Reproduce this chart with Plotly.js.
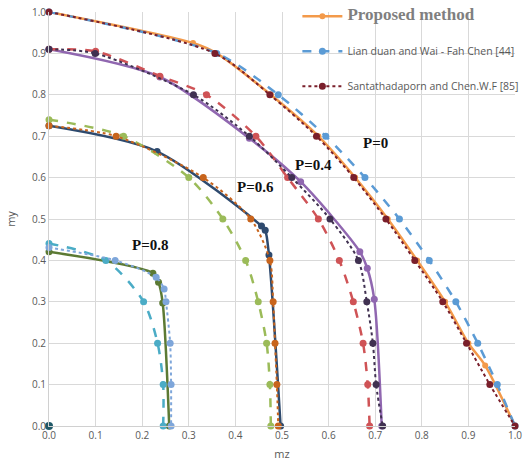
<!DOCTYPE html>
<html>
<head>
<meta charset="utf-8">
<script src="https://cdn.plot.ly/plotly-3.0.1.min.js"></script>
<style>html,body{margin:0;padding:0;background:#fff;}#chart{width:529px;height:468px;}</style>
</head>
<body>
<div id="chart"></div>
<script>
// P = 0
const p0_prop_mz = [0, 0.309, 0.36, 0.476, 0.578, 0.657, 0.727, 0.79, 0.85, 0.9, 0.936, 1.0];
const p0_prop_my = [1.0, 0.925, 0.9, 0.8, 0.7, 0.6, 0.5, 0.4, 0.3, 0.2, 0.146, 0];
const p0_lian_mz = [0, 0.36, 0.492, 0.594, 0.678, 0.752, 0.816, 0.873, 0.920, 0.962, 1.0];
const p0_lian_my = [1.0, 0.9, 0.8, 0.7, 0.6, 0.5, 0.4, 0.3, 0.2, 0.1, 0];
const p0_santa_mz = [0, 0.356, 0.474, 0.574, 0.654, 0.723, 0.785, 0.845, 0.896, 0.946, 1.0];
const p0_santa_my = [1.0, 0.9, 0.8, 0.7, 0.6, 0.5, 0.4, 0.3, 0.2, 0.1, 0];
// P = 0.4
const p4_prop_mz = [0, 0.238, 0.43, 0.54, 0.667, 0.683, 0.698, 0.714];
const p4_prop_my = [0.91, 0.843, 0.695, 0.59, 0.421, 0.381, 0.306, 0];
const p4_lian_mz = [0, 0.1, 0.238, 0.338, 0.444, 0.512, 0.578, 0.623, 0.653, 0.674, 0.684, 0.688];
const p4_lian_my = [0.91, 0.905, 0.845, 0.8, 0.7, 0.6, 0.5, 0.4, 0.3, 0.2, 0.1, 0];
const p4_santa_mz = [0, 0.099, 0.31, 0.43, 0.521, 0.603, 0.664, 0.682, 0.695, 0.702, 0.716];
const p4_santa_my = [0.91, 0.9, 0.8, 0.7, 0.6, 0.5, 0.4, 0.3, 0.2, 0.1, 0];
// P = 0.6
const p6_prop_mz = [0, 0.232, 0.456, 0.464, 0.472, 0.497];
const p6_prop_my = [0.725, 0.663, 0.483, 0.473, 0.413, 0];
const p6_lian_mz = [0, 0.16, 0.30, 0.373, 0.422, 0.449, 0.467, 0.474, 0.476];
const p6_lian_my = [0.74, 0.70, 0.60, 0.50, 0.40, 0.30, 0.20, 0.10, 0];
const p6_santa_mz = [0, 0.144, 0.331, 0.433, 0.474, 0.481, 0.485, 0.489, 0.492];
const p6_santa_my = [0.725, 0.7, 0.6, 0.5, 0.4, 0.3, 0.2, 0.1, 0];
// P = 0.8
const p8_prop_mz = [0, 0.223, 0.235, 0.244, 0.258];
const p8_prop_my = [0.421, 0.369, 0.347, 0.297, 0];
const p8_lian_mz = [0, 0.122, 0.203, 0.233, 0.245, 0.245];
const p8_lian_my = [0.441, 0.40, 0.30, 0.20, 0.10, 0];
const p8_santa_mz = [0, 0.142, 0.230, 0.247, 0.251, 0.260, 0.262, 0.262];
const p8_santa_my = [0.431, 0.40, 0.359, 0.331, 0.30, 0.20, 0.10, 0];
// stray point
const origin_mz = [0];
const origin_my = [0];

const legendNames = [
  '<span style="font-family:\'Liberation Serif\';font-size:17px;font-weight:bold;color:#7f7f7f">Proposed method</span>',
  'Lian duan and Wai - Fah Chen [44]',
  'Santathadaporn and Chen.W.F [85]'
];
const tickVals = [0, 0.1, 0.2, 0.3, 0.4, 0.5, 0.6, 0.7, 0.8, 0.9, 1.0];
const tickText = ['0.0','0.1','0.2','0.3','0.4','0.5','0.6','0.7','0.8','0.9','1.0'];
const pLabels = ['P=0', 'P=0.4', 'P=0.6', 'P=0.8'];
const pLabelMz = [0.70, 0.567, 0.444, 0.217];
const pLabelMy = [0.684, 0.63, 0.577, 0.437];

function tr(x, y, color, dash, width, msize, name, show, group) {
  return {
    type: 'scatter', mode: 'lines+markers', x: x, y: y,
    name: name || '', showlegend: !!show, legendgroup: group || undefined,
    line: {color: color, dash: dash, width: width, shape: 'spline', smoothing: 0.8},
    marker: {color: color, size: msize},
    cliponaxis: false, hoverinfo: 'skip'
  };
}

const traces = [
  tr(p8_prop_mz, p8_prop_my, '#5c7a34', 'solid', 2.5, 7),
  tr(p8_lian_mz, p8_lian_my, '#4bacc6', 'dash', 2.5, 7),
  tr(p8_santa_mz, p8_santa_my, '#7ea6da', 'dot', 2, 7),
  tr(p6_prop_mz, p6_prop_my, '#2e4a6e', 'solid', 2.5, 7),
  tr(p6_lian_mz, p6_lian_my, '#9bbb59', 'dash', 2.5, 7),
  tr(p6_santa_mz, p6_santa_my, '#c8641c', 'dot', 2, 7),
  tr(p4_prop_mz, p4_prop_my, '#9067b0', 'solid', 2.5, 7),
  tr(p4_lian_mz, p4_lian_my, '#cf5356', 'dash', 2.5, 7),
  tr(p4_santa_mz, p4_santa_my, '#403151', 'dot', 2, 7),
  tr(p0_prop_mz, p0_prop_my, '#f39a4a', 'solid', 2.5, 6, legendNames[0], true, 'g1'),
  tr(p0_lian_mz, p0_lian_my, '#5b9bd5', 'dash', 2.5, 7, legendNames[1], true, 'g2'),
  tr(p0_santa_mz, p0_santa_my, '#7a1f2b', 'dot', 2, 7, legendNames[2], true, 'g3'),
  {type:'scatter', mode:'markers', x: origin_mz, y: origin_my, showlegend:false,
   marker:{color:'#215968', size:8}, cliponaxis:false, hoverinfo:'skip'}
];

const annotations = pLabels.map((t, i) => ({
  x: pLabelMz[i], y: pLabelMy[i], xref: 'x', yref: 'y', text: '<b>' + t + '</b>',
  showarrow: false, font: {family: 'Liberation Serif', size: 15, color: '#111'}
}));

const layout = {
  width: 529, height: 468,
  margin: {l: 49, r: 14, t: 12, b: 42, autoexpand: false},
  paper_bgcolor: '#fff', plot_bgcolor: '#fff',
  showlegend: true,
  legend: {
    x: 0.533, xanchor: 'left', y: 1.025, yanchor: 'top',
    bgcolor: 'rgba(0,0,0,0)', font: {family: 'Open Sans', size: 10.5, color: '#595959'},
    tracegroupgap: 16, itemwidth: 40, traceorder: 'grouped'
  },
  xaxis: {
    range: [0, 1], tickvals: tickVals, ticktext: tickText,
    showgrid: true, gridcolor: '#d9d9d9', gridwidth: 1,
    zeroline: false, showline: true, linecolor: '#d0d0d0', linewidth: 1,
    tickfont: {family: 'Open Sans', size: 10, color: '#595959'},
    title: {text: 'mz', font: {family: 'Open Sans', size: 11, color: '#595959'}, standoff: 9},
    fixedrange: true, automargin: false
  },
  yaxis: {
    range: [0, 1], tickvals: tickVals, ticktext: tickText,
    showgrid: true, gridcolor: '#d9d9d9', gridwidth: 1,
    zeroline: false, showline: true, linecolor: '#d0d0d0', linewidth: 1,
    tickfont: {family: 'Open Sans', size: 10, color: '#595959'},
    title: {text: 'my', font: {family: 'Open Sans', size: 11, color: '#595959'}, standoff: 14},
    fixedrange: true, automargin: false
  },
  annotations: annotations
};

Plotly.newPlot('chart', traces, layout, {displayModeBar: false, staticPlot: true});
</script>
</body>
</html>
